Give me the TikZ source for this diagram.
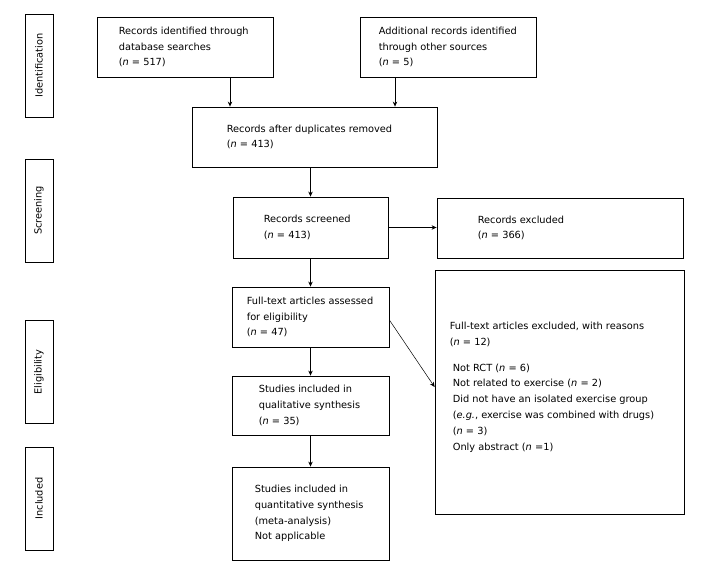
\documentclass[tikz,border=0pt]{standalone}
\usepackage{fontspec}
\setmainfont{DejaVu Sans}
\usetikzlibrary{arrows.meta,calc}
\begin{document}
\begin{tikzpicture}[x=1bp,y=-1bp,
  box/.style={draw,line width=0.8bp,inner sep=0pt},
  side/.style={draw,line width=0.8bp,inner sep=0pt,rotate=90,minimum width=103bp,minimum height=28bp,font=\fontsize{9.8bp}{12bp}\selectfont},
  txt/.style={inner sep=0pt,align=left,anchor=west,font=\fontsize{9.8bp}{15.8bp}\selectfont},
  arr/.style={line width=0.8bp,-{Stealth[length=5bp,width=4.5bp]}},
  thinarr/.style={line width=0.5bp,-{Stealth[length=5bp,width=4.5bp]}}]
\useasboundingbox[fill=white] (0,0) rectangle (725,578);
% side labels
\node[side] (L1) at (39,65.5) {Identification};
\node[side] (L2) at (39,210.5) {Screening};
\node[side] (L3) at (39,372) {Eligibility};
\node[side] (L4) at (39,498.5) {Included};
% boxes
\node[box,minimum width=176bp,minimum height=60bp] (b1) at (185,47) {};
\node[box,minimum width=176bp,minimum height=60bp] (b2) at (448,47) {};
\node[box,minimum width=245bp,minimum height=60bp] (b3) at (314.5,137) {};
\node[box,minimum width=155bp,minimum height=61bp] (b4) at (310.5,227.5) {};
\node[box,minimum width=246bp,minimum height=60bp] (b5) at (560,228) {};
\node[box,minimum width=157bp,minimum height=60bp] (b6) at (310.5,317) {};
\node[box,minimum width=157bp,minimum height=59bp] (b7) at (310.5,405.5) {};
\node[box,minimum width=157bp,minimum height=93bp] (b8) at (310.5,513.5) {};
\node[box,minimum width=249bp,minimum height=244bp] (b9) at (559.5,392) {};
% texts
\node[txt] (t1) at ([xshift=22bp]b1.west) {Records identified through\\database searches\\(\textit{n} = 517)};
\node[txt] (t2) at ([xshift=19bp]b2.west) {Additional records identified\\through other sources\\(\textit{n} = 5)};
\node[txt] (t3) at ([xshift=35bp]b3.west) {Records after duplicates removed\\(\textit{n} = 413)};
\node[txt] (t4) at ([xshift=31bp]b4.west) {Records screened\\(\textit{n} = 413)};
\node[txt] (t5) at ([xshift=41bp]b5.west) {Records excluded\\(\textit{n} = 366)};
\node[txt] (t6) at ([xshift=15bp]b6.west) {Full-text articles assessed\\for eligibility\\(\textit{n} = 47)};
\node[txt] (t7) at ([xshift=27bp]b7.west) {Studies included in\\qualitative synthesis\\(\textit{n} = 35)};
\node[txt] (t8) at ([xshift=23bp]b8.west) {Studies included in\\quantitative synthesis\\(meta-analysis)\\Not applicable};
\node[txt] (t9) at ([xshift=15bp,yshift=5bp]b9.west) {Full-text articles excluded, with reasons\\(\textit{n} = 12)\\[10bp]
\hspace*{3bp}Not RCT (\textit{n} = 6)\\
\hspace*{3bp}Not related to exercise (\textit{n} = 2)\\
\hspace*{3bp}Did not have an isolated exercise group\\
\hspace*{3bp}(\textit{e.g.}, exercise was combined with drugs)\\
\hspace*{3bp}(\textit{n} = 3)\\
\hspace*{3bp}Only abstract (\textit{n} =1)};
% connectors
\draw[arr] ([xshift=45bp]b1.south) -- ([xshift=45bp]b1.south |- b3.north);
\draw[arr] ([xshift=-53bp]b2.south) -- ([xshift=-53bp]b2.south |- b3.north);
\draw[arr] (b4.north |- b3.south) -- (b4.north);
\draw[arr] (b4.south) -- (b6.north);
\draw[arr] (b4.east) -- (b5.west |- b4.east);
\draw[arr] (b6.south) -- (b7.north);
\draw[arr] (b7.south) -- (b8.north);
\draw[thinarr] ([yshift=-3bp]b6.east) -- ([yshift=5bp]b9.west);
\end{tikzpicture}
\end{document}
